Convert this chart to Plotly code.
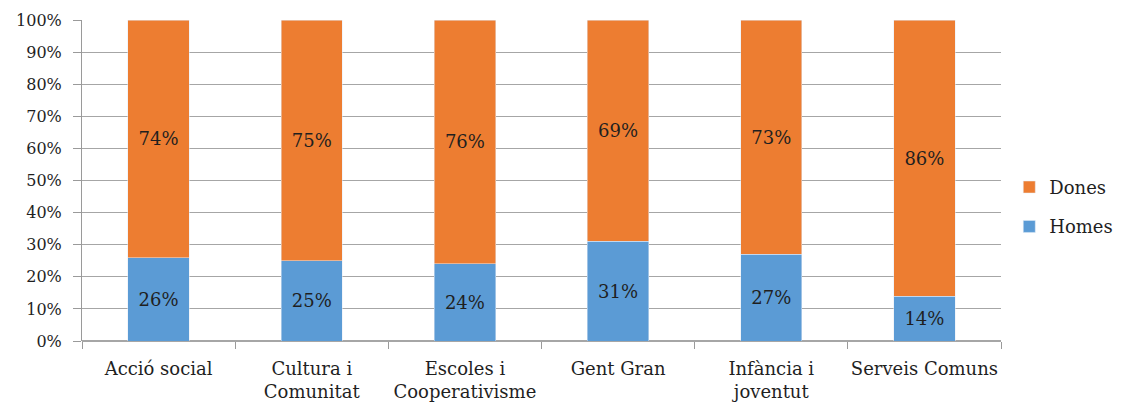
import plotly.graph_objects as go

# Share of men and women per area (percent)
categories = [
    "Acció social",
    "Cultura i<br>Comunitat",
    "Escoles i<br>Cooperativisme",
    "Gent Gran",
    "Infància i<br>joventut",
    "Serveis Comuns",
]
homes = [26, 25, 24, 31, 27, 14]
dones = [74, 75, 76, 69, 73, 86]
y_ticks = [0, 10, 20, 30, 40, 50, 60, 70, 80, 90, 100]

FONT = "DejaVu Serif"
BLUE = "#5B9BD5"
ORANGE = "#ED7D31"
TEXT = "#1f1f1f"

fig = go.Figure()
fig.add_trace(go.Bar(
    x=categories, y=homes, name="Homes", marker_color=BLUE,
    text=[f"{v}%" for v in homes], textposition="inside",
    insidetextanchor="middle", textangle=0,
    textfont=dict(family=FONT, size=18, color=TEXT),
    legendgroup="h", legendrank=2,
))
fig.add_trace(go.Bar(
    x=categories, y=dones, name="Dones", marker_color=ORANGE,
    text=[f"{v}%" for v in dones], textposition="inside",
    insidetextanchor="middle", textangle=0,
    textfont=dict(family=FONT, size=18, color=TEXT),
    legendgroup="d", legendrank=1,
))

fig.update_layout(
    barmode="stack",
    bargap=0.6,
    width=1121, height=403,
    margin=dict(l=82, r=120, t=20, b=62, autoexpand=False),
    paper_bgcolor="white", plot_bgcolor="white",
    font=dict(family=FONT, size=16, color=TEXT),
    uniformtext=dict(mode="show", minsize=10),
    legend=dict(
        x=1.009, y=0.418, xanchor="left", yanchor="middle",
        traceorder="grouped", tracegroupgap=13,
        font=dict(family=FONT, size=18, color=TEXT),
        itemwidth=30,
    ),
    xaxis=dict(
        showline=False, ticks="outside", tickson="boundaries",
        ticklen=7, tickcolor="#9a9a9a", tickangle=0,
        ticklabelstandoff=15,
        tickfont=dict(family=FONT, size=18, color=TEXT),
    ),
    yaxis=dict(
        range=[0, 100], tickvals=y_ticks,
        ticktext=[f"{v}%" for v in y_ticks],
        showgrid=True, gridcolor="#a6a6a6", gridwidth=1,
        showline=True, linecolor="#9a9a9a", linewidth=1,
        ticks="outside", ticklen=8, tickcolor="#9a9a9a",
        ticklabelstandoff=8,
        zeroline=True, zerolinecolor="#a6a6a6",
        tickfont=dict(family=FONT, size=16, color=TEXT),
    ),
)

fig.write_html("out.html")
